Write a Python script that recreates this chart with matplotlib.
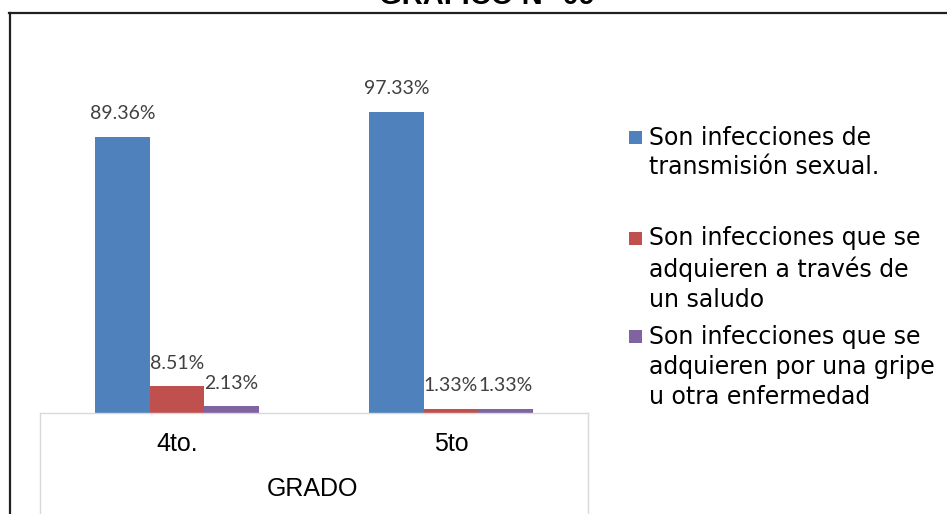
import matplotlib
matplotlib.use("Agg")
import matplotlib.pyplot as plt
from matplotlib.lines import Line2D
from matplotlib.patches import Rectangle

W, H = 947, 514

categories = ["4to.", "5to"]
series_names = [
    "Son infecciones de\ntransmisión sexual.",
    "Son infecciones que se\nadquieren a través de\nun saludo",
    "Son infecciones que se\nadquieren por una gripe\nu otra enfermedad",
]
its = [89.36, 97.33]
saludo = [8.51, 1.33]
gripe = [2.13, 1.33]
series_values = [its, saludo, gripe]
colors = ["#4F81BD", "#C0504D", "#8064A2"]
title = "GRÁFICO N° 09"
axis_title = "GRADO"

fig = plt.figure(figsize=(W / 100, H / 100), dpi=100)

def fx(px):
    return px / W

def fy(py):
    return 1 - py / H

# plot area
left_px, right_px = 40, 588
base_px = 412.7
top_px = base_px - 309.0
ax = fig.add_axes([fx(left_px), fy(base_px), fx(right_px - left_px), (base_px - top_px) / H])
ax.set_xlim(-0.5, 1.5)
ax.set_ylim(0, 100)
ax.axis("off")

bw = 0.199
offsets = [-bw, 0, bw]
for vals, off, col in zip(series_values, offsets, colors):
    xs = [i + off for i in range(len(categories))]
    ax.bar(xs, vals, width=bw, color=col, edgecolor="none", zorder=2)
    for x, v in zip(xs, vals):
        ax.annotate(f"{v:.2f}%", (x, v), xytext=(0, 23), textcoords="offset pixels",
                    ha="center", va="center", fontsize=14, family="Lato",
                    color="#404040")

# category box lines
gray = "#D9D9D9"
fig.add_artist(Line2D([fx(left_px), fx(right_px)], [fy(base_px), fy(base_px)],
                      color=gray, lw=1.0))
for xp in (left_px, right_px):
    fig.add_artist(Line2D([fx(xp), fx(xp)], [fy(base_px), 0], color=gray, lw=1.0))

# category labels
for i, c in enumerate(categories):
    xd = ax.transData.transform((i, 0))[0]
    fig.text(xd / W, fy(443.6), c, ha="center", va="center", fontsize=18,
             family="Liberation Sans", color="#000000")
fig.text(fx(312), fy(489), axis_title, ha="center", va="center", fontsize=18,
         family="Liberation Sans", color="#000000")

# legend (manual)
legend_y = [152.5, 269, 367]
for name, col, yc in zip(series_names, colors, legend_y):
    nlines = name.count("\n") + 1
    first_y = yc - (nlines - 1) * 31 / 2
    fig.add_artist(Rectangle((fx(629), fy(first_y + 6.5)), 13 / W, 13 / H,
                             facecolor=col, edgecolor="none"))
    fig.text(fx(649), fy(yc), name, ha="left", va="center", fontsize=17,
             family="DejaVu Sans", color="#000000", linespacing=1.3)

# frame
fig.add_artist(Line2D([fx(9), 1], [fy(13), fy(13)], color="#202020", lw=1.6))
fig.add_artist(Line2D([fx(10), fx(10)], [fy(13), 0], color="#202020", lw=1.6))

# title (partially cut off at top, as in the reference)
fig.text(fx(487), fy(4), title, ha="center", va="baseline", fontsize=21,
         fontweight="bold", family="Liberation Sans", color="#000000")

fig.savefig("out.png", dpi=100)
